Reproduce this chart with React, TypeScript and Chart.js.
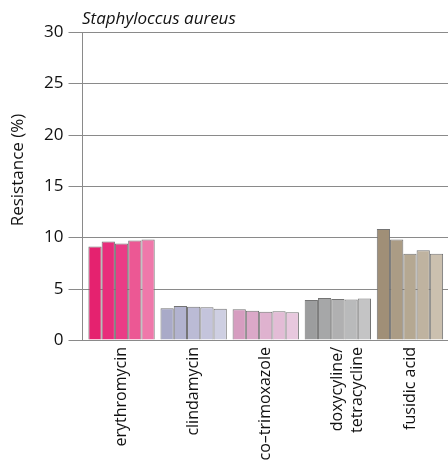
import React, { useEffect, useRef } from "react";
import { Chart, registerables } from "chart.js";

Chart.register(...registerables);

const categories: (string | string[])[] = [
  "erythromycin",
  "clindamycin",
  "co\u2013trimoxazole",
  ["doxycyline/", "tetracycline"],
  "fusidic acid",
];

const years = ["2015", "2016", "2017", "2018", "2019"];

// values per year (dataset), in category order
const year1 = [9.1, 3.1, 3.0, 3.9, 10.8];
const year2 = [9.6, 3.3, 2.85, 4.1, 9.8];
const year3 = [9.4, 3.25, 2.75, 4.0, 8.4];
const year4 = [9.7, 3.2, 2.8, 3.95, 8.75];
const year5 = [9.8, 3.05, 2.7, 4.05, 8.4];

const yTicks = [0, 5, 10, 15, 20, 25, 30];

// colours per category, shaded per year
const shades: string[][] = [
  ["#e5226f", "#e82d7b", "#ea3c86", "#ec5894", "#ef78aa"],
  ["#a9aac8", "#b2b3cf", "#bbbbd5", "#c4c4dc", "#cecfe2"],
  ["#d69dc0", "#dba8c8", "#dfb2cf", "#e3bcd6", "#e8c8de"],
  ["#9c9d9e", "#a6a7a8", "#b0b0b1", "#b9babb", "#c4c4c5"],
  ["#a08f77", "#ab9c85", "#b5a892", "#bfb3a0", "#cbc0af"],
];

const series = [year1, year2, year3, year4, year5];

const FONT = "'Open Sans', 'Noto Sans', sans-serif";
const GRID = "#8a8a8a";
const AXIS_GAP = 3.5; // gap between y axis line and first category
const TICK_LEN = 14;

const decorPlugin = {
  id: "decor",
  beforeDatasetsDraw(chart: any) {
    const { ctx, chartArea, scales } = chart;
    const y = scales.y;
    const axisX = Math.round(chartArea.left - AXIS_GAP) + 0.5;
    ctx.save();
    ctx.strokeStyle = GRID;
    ctx.lineWidth = 1;
    for (const v of yTicks) {
      const py = Math.round(y.getPixelForValue(v)) + 0.5;
      ctx.beginPath();
      ctx.moveTo(axisX - TICK_LEN, py);
      ctx.lineTo(chart.width, py);
      ctx.stroke();
    }
    ctx.beginPath();
    ctx.moveTo(axisX, Math.round(y.getPixelForValue(30)));
    ctx.lineTo(axisX, Math.round(y.getPixelForValue(0)) + 1);
    ctx.stroke();
    ctx.restore();
  },
  afterDraw(chart: any) {
    const { ctx, chartArea } = chart;
    ctx.save();
    ctx.font = `italic 17px ${FONT}`;
    ctx.fillStyle = "#111";
    ctx.textAlign = "left";
    ctx.textBaseline = "alphabetic";
    ctx.fillText("Staphyloccus aureus", chartArea.left - AXIS_GAP, chartArea.top - 8);
    // y axis title
    ctx.font = `17px ${FONT}`;
    ctx.textAlign = "center";
    ctx.textBaseline = "middle";
    ctx.translate(18, chartArea.top + 138);
    ctx.rotate(-Math.PI / 2);
    ctx.fillText("Resistance (%)", 0, 0);
    ctx.restore();
  },
};

export default function App() {
  const ref = useRef<HTMLCanvasElement | null>(null);

  useEffect(() => {
    if (!ref.current) return;
    const chart = new Chart(ref.current, {
      type: "bar",
      data: {
        labels: categories,
        datasets: series.map((vals, i) => ({
          label: years[i],
          data: vals,
          backgroundColor: shades.map((s) => s[i]),
          borderColor: "#747474",
          borderWidth: 1,
          barPercentage: 1,
          categoryPercentage: 0.92,
        })),
      },
      options: {
        responsive: false,
        animation: false,
        layout: { padding: { top: 32, right: 2, left: 0, bottom: 0 } },
        plugins: {
          legend: { display: false },
          title: { display: false },
          tooltip: { enabled: false },
        },
        scales: {
          x: {
            grid: { display: false, drawTicks: false },
            border: { display: false },
            ticks: {
              minRotation: 90,
              maxRotation: 90,
              padding: 7,
              color: "#111",
              font: { family: FONT, size: 16 },
              autoSkip: false,
            },
            afterFit(scale: any) {
              scale.height = 121;
            },
          },
          y: {
            min: 0,
            max: 30,
            afterBuildTicks(scale: any) {
              scale.ticks = yTicks.map((v) => ({ value: v }));
            },
            ticks: {
              stepSize: 5,
              padding: 8,
              color: "#111",
              font: { family: FONT, size: 17 },
            },
            grid: {
              color: "rgba(0,0,0,0)",
              drawOnChartArea: false,
              drawTicks: true,
              tickLength: TICK_LEN,
            },
            border: { display: false },
            title: { display: false },
            afterFit(scale: any) {
              scale.width = 85.5;
            },
          },
        },
      },
      plugins: [decorPlugin],
    });
    return () => chart.destroy();
  }, []);

  return (
    <div style={{ position: "absolute", left: 0, top: 0, width: 448, height: 461 }}>
      <canvas ref={ref} width={448} height={461} />
    </div>
  );
}
